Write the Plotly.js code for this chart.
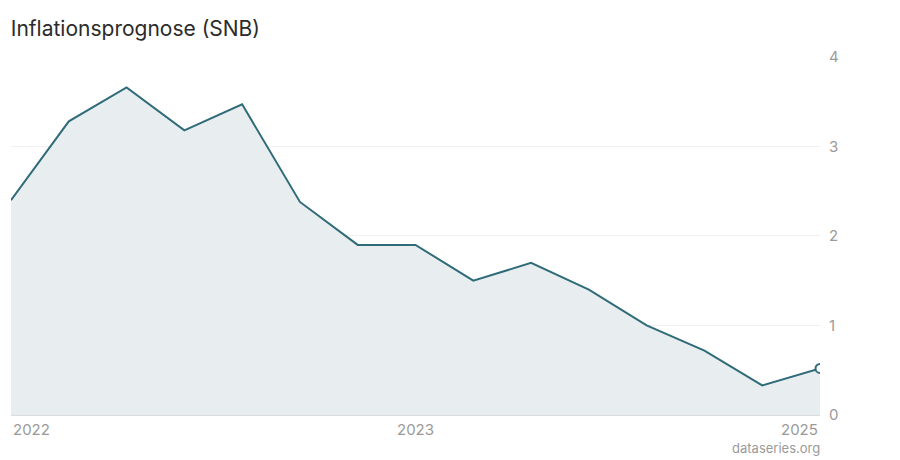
<!DOCTYPE html>
<html>
<head>
<meta charset="utf-8">
<script src="https://cdn.plot.ly/plotly-3.0.1.min.js"></script>
<style>
  html, body { margin: 0; padding: 0; background: #fff; }
  #chart { width: 900px; height: 460px; }
</style>
</head>
<body>
<div id="chart"></div>
<script>
// SNB forecast releases
const releaseIndex = [0, 1, 2, 3, 4, 5, 6, 7, 8, 9, 10, 11, 12, 13, 14];
const inflation = [2.4, 3.28, 3.66, 3.18, 3.47, 2.38, 1.9, 1.9, 1.5, 1.7, 1.4, 1.0, 0.72, 0.33, 0.52];
const xTickVals = [0, 7, 14];
const xTickText = ['2022', '2023', '2025'];
const yTickVals = [0, 1, 2, 3, 4];

const lineColor = '#2f6b78';
const tickColor = '#9a9a9a';
const font = 'Inter, "Noto Sans", sans-serif';

const area = {
    x: releaseIndex,
    y: inflation,
    type: 'scatter',
    mode: 'lines',
    fill: 'tozeroy',
    fillcolor: '#e8eef0',
    line: {color: lineColor, width: 2},
    hoverinfo: 'skip'
};

const lastPoint = {
    x: [releaseIndex[releaseIndex.length - 1]],
    y: [inflation[inflation.length - 1]],
    type: 'scatter',
    mode: 'markers',
    marker: {size: 9, color: '#ffffff', line: {color: lineColor, width: 2}},
    cliponaxis: true,
    hoverinfo: 'skip'
};

// x labels: first one left aligned, last one right aligned
const xLabels = xTickVals.map((v, i) => ({
    x: v,
    y: 0,
    xref: 'x',
    yref: 'paper',
    yanchor: 'top',
    yshift: -3,
    xanchor: i === 0 ? 'left' : (i === xTickVals.length - 1 ? 'right' : 'center'),
    text: xTickText[i],
    showarrow: false,
    font: {family: font, size: 15, color: tickColor}
}));

const layout = {
    width: 900,
    height: 460,
    paper_bgcolor: '#ffffff',
    plot_bgcolor: '#ffffff',
    margin: {t: 56, b: 45, l: 11, r: 80},
    showlegend: false,
    font: {family: font, color: tickColor},
    title: {
        text: 'Inflationsprognose (SNB)',
        x: 0.012,
        xanchor: 'left',
        y: 0.938,
        yanchor: 'middle',
        font: {family: font, size: 21, color: '#2b2b2b', weight: 400}
    },
    xaxis: {
        range: [0, 14],
        showgrid: false,
        zeroline: false,
        showline: false,
        showticklabels: false,
        ticks: '',
        fixedrange: true
    },
    yaxis: {
        side: 'right',
        range: [0, 4.01],
        tickvals: yTickVals,
        gridcolor: '#f0f0f0',
        gridwidth: 1,
        zeroline: true,
        zerolinecolor: '#dcdcdc',
        zerolinewidth: 1,
        showline: false,
        ticks: '',
        ticklabelstandoff: 8,
        tickfont: {family: font, size: 15, color: tickColor},
        fixedrange: true
    },
    annotations: xLabels.concat([{
        x: 1,
        y: 0,
        xref: 'paper',
        yref: 'paper',
        xanchor: 'right',
        yanchor: 'top',
        yshift: -23,
        xshift: 2,
        text: 'dataseries.org',
        showarrow: false,
        font: {family: font, size: 13, color: tickColor}
    }])
};

Plotly.newPlot('chart', [area, lastPoint], layout, {displayModeBar: false, staticPlot: true});
</script>
</body>
</html>
